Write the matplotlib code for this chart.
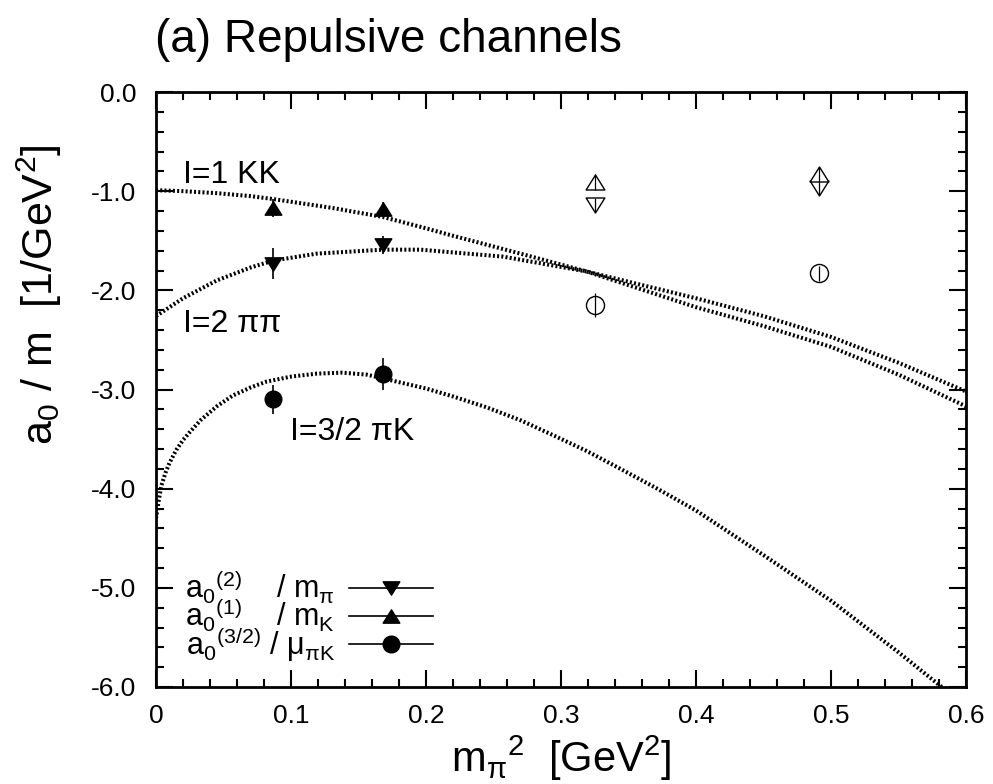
import matplotlib
matplotlib.use("Agg")
import matplotlib.pyplot as plt
from matplotlib.lines import Line2D
from matplotlib.path import Path
from matplotlib.ticker import MultipleLocator, FormatStrFormatter

plt.rcParams['font.family'] = ['Liberation Sans', 'DejaVu Sans']
plt.rcParams['mathtext.fontset'] = 'custom'
plt.rcParams['mathtext.rm'] = 'Liberation Sans'
plt.rcParams['mathtext.it'] = 'Liberation Sans'
plt.rcParams['mathtext.bf'] = 'Liberation Sans:bold'

# ---- data ----
x_lat = [0.087, 0.168]
pipi_I2 = [-1.73, -1.54]
pipi_I2_err = [0.16, 0.09]
KK_I1 = [-1.17, -1.18]
KK_I1_err = [0.09, 0.07]
piK_I32 = [-3.10, -2.84]
piK_I32_err = [0.15, 0.16]

x_open = [0.325, 0.491]
pipi_I2_open = [-1.14, -0.97]
pipi_I2_open_err = [0.07, 0.07]
KK_I1_open = [-0.91, -0.83]
KK_I1_open_err = [0.08, 0.07]
piK_I32_open = [-2.15, -1.83]
piK_I32_open_err = [0.12, 0.08]

# chiral-perturbation-theory curves
x_KK = [0.0, 0.02, 0.045, 0.07, 0.087, 0.131, 0.168, 0.196, 0.22, 0.27, 0.319,
        0.40, 0.45, 0.50, 0.55, 0.60]
y_KK = [-0.99, -1.00, -1.02, -1.05, -1.08, -1.17, -1.26, -1.36, -1.45, -1.63, -1.81,
        -2.17, -2.36, -2.57, -2.85, -3.17]
x_pipi = [0.0, 0.02, 0.045, 0.07, 0.087, 0.119, 0.168, 0.196, 0.257, 0.319,
          0.40, 0.45, 0.50, 0.55, 0.60]
y_pipi = [-2.26, -2.08, -1.90, -1.77, -1.70, -1.63, -1.59, -1.59, -1.66, -1.81,
          -2.08, -2.26, -2.47, -2.73, -3.02]
x_piK = [0.0, 0.002, 0.004, 0.007, 0.01, 0.015, 0.02, 0.025, 0.033, 0.045, 0.057,
         0.07, 0.082, 0.10, 0.119, 0.138, 0.156, 0.175, 0.20, 0.22, 0.245, 0.27,
         0.294, 0.319, 0.344, 0.37, 0.40, 0.45, 0.50, 0.55, 0.582, 0.59]
y_piK = [-4.30, -4.12, -3.97, -3.84, -3.74, -3.61, -3.51, -3.43, -3.31, -3.17, -3.06,
         -2.98, -2.92, -2.87, -2.84, -2.83, -2.85, -2.91, -2.99, -3.07, -3.18, -3.31,
         -3.46, -3.62, -3.80, -3.99, -4.22, -4.67, -5.13, -5.65, -6.00, -6.11]

curve_labels = ['I=1 KK', 'I=2 \u03c0\u03c0', 'I=3/2 \u03c0K']
curve_label_pos = [(0.020, -0.915), (0.020, -2.42), (0.099, -3.51)]

x_ticks = [0, 0.1, 0.2, 0.3, 0.4, 0.5, 0.6]
x_tick_labels = ['0', '0.1', '0.2', '0.3', '0.4', '0.5', '0.6']
y_ticks = [0.0, -1.0, -2.0, -3.0, -4.0, -5.0, -6.0]

legend_labels = [r'$\mathregular{a_0{}^{(2)}}$    / $\mathregular{m_\pi}$',
                 r'$\mathregular{a_0{}^{(1)}}$    / $\mathregular{m_K}$',
                 r'$\mathregular{a_0{}^{(3/2)}}$ / $\mathregular{\mu_{\pi K}}$']

# flattened (near-equilateral) triangle markers
tri_up = Path([(0, 0.8), (-1, -0.8), (1, -0.8), (0, 0.8)],
              [Path.MOVETO, Path.LINETO, Path.LINETO, Path.CLOSEPOLY])
tri_dn = Path([(0, -0.8), (-1, 0.8), (1, 0.8), (0, -0.8)],
              [Path.MOVETO, Path.LINETO, Path.LINETO, Path.CLOSEPOLY])

# ---- figure ----
fig = plt.figure(figsize=(9.93, 7.84), dpi=100)
ax = fig.add_axes([156/993, 1-687/784, 810/993, 595/784])

dot = (0, (0.5, 0.55))
for xs, ys in [(x_KK, y_KK), (x_pipi, y_pipi), (x_piK, y_piK)]:
    ax.plot(xs, ys, color='black', lw=2.9, linestyle=dot, dash_capstyle='butt')

ekw = dict(ls='none', color='black', ecolor='black', elinewidth=1.2, capsize=0)
ax.errorbar(x_lat, pipi_I2, yerr=pipi_I2_err, marker=tri_dn, ms=12, **ekw)
ax.errorbar(x_lat, KK_I1, yerr=KK_I1_err, marker=tri_up, ms=12, **ekw)
ax.errorbar(x_lat, piK_I32, yerr=piK_I32_err, marker='o', ms=12, **ekw)

okw = dict(ls='none', mfc='white', mec='black', mew=1.0, zorder=3)
ax.plot(x_open, pipi_I2_open, marker=tri_dn, ms=13.5, **okw)
ax.plot(x_open, KK_I1_open, marker=tri_up, ms=13.5, **okw)
ax.plot(x_open, piK_I32_open, marker='o', ms=13, **okw)
for ys, es in [(pipi_I2_open, pipi_I2_open_err), (KK_I1_open, KK_I1_open_err),
               (piK_I32_open, piK_I32_open_err)]:
    ax.errorbar(x_open, ys, yerr=es, ls='none', marker='none', ecolor='black',
                elinewidth=0.9, capsize=0, zorder=5)

for lab, (tx, ty) in zip(curve_labels, curve_label_pos):
    ax.text(tx, ty, lab, fontsize=23, va='baseline', ha='left')

ax.set_xlim(0, 0.6)
ax.set_ylim(-6.0, 0.0)
ax.set_xticks(x_ticks)
ax.set_xticklabels(x_tick_labels)
ax.set_yticks(y_ticks)
ax.yaxis.set_major_formatter(FormatStrFormatter('%.1f'))
ax.xaxis.set_minor_locator(MultipleLocator(0.02))
ax.yaxis.set_minor_locator(MultipleLocator(0.2))
ax.tick_params(which='both', direction='in', top=True, right=True, labelsize=19)
ax.tick_params(which='major', length=12, width=1.5)
ax.tick_params(which='minor', length=6, width=1.5)
ax.tick_params(axis='x', pad=12)
ax.tick_params(axis='y', pad=14)
for s in ax.spines.values():
    s.set_linewidth(2.0)

ax.set_xlabel(r'$\mathregular{m_\pi{}^{2}}$  [GeV$\mathregular{^2}$]', fontsize=30)
ax.xaxis.set_label_coords(0.5, -0.078)
ax.set_ylabel(r'$\mathregular{a_0}$ / m  [1/GeV$\mathregular{^2}$]', fontsize=31)
ax.yaxis.set_label_coords(-0.113, 0.659)

fig.text(155/993, 1-52/784, '(a) Repulsive channels', fontsize=33,
         va='baseline', ha='left')

handles = [
    Line2D([], [], color='black', lw=1.2, marker=tri_dn, ms=12),
    Line2D([], [], color='black', lw=1.2, marker=tri_up, ms=12),
    Line2D([], [], color='black', lw=1.2, marker='o', ms=12),
]
leg = ax.legend(handles, legend_labels, loc='center left', bbox_to_anchor=(0.036, 0.119),
                frameon=False, markerfirst=False, fontsize=22, labelspacing=-0.30,
                handlelength=2.75, handletextpad=0.45, borderpad=0, borderaxespad=0)

fig.savefig('out.png', dpi=100)
